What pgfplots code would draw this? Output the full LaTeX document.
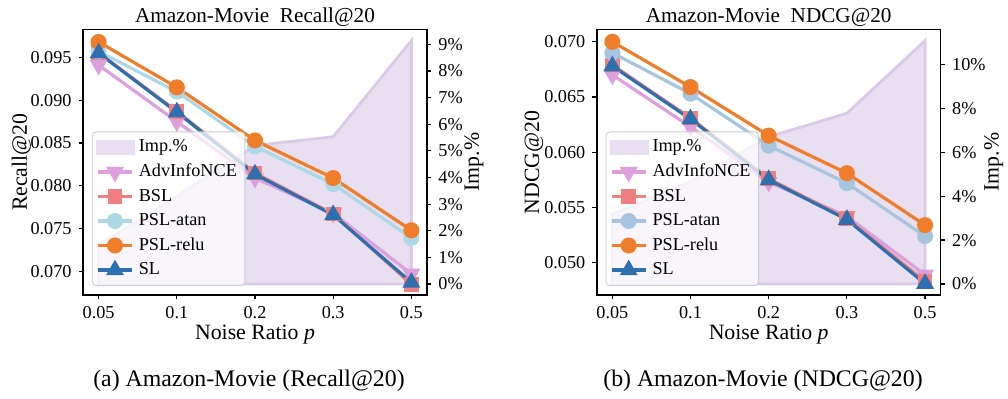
\documentclass[border=0pt]{standalone}
\usepackage{pgfplots}
\pgfplotsset{compat=1.18}
\usepackage{fontspec}
\setmainfont{Liberation Serif}
\definecolor{cRelu}{RGB}{239,125,42}
\definecolor{cSL}{RGB}{46,111,176}
\definecolor{cAtanA}{RGB}{173,216,230}
\definecolor{cAtanB}{RGB}{168,197,224}
\definecolor{cBSL}{RGB}{240,128,128}
\definecolor{cAdv}{RGB}{221,160,221}
\definecolor{cImpF}{RGB}{232,223,240}
\definecolor{cImpL}{RGB}{217,202,231}
\definecolor{cLeg}{RGB}{204,204,204}

\pgfplotsset{
  every axis title shift=0pt,
  base/.style={
    scale only axis, width=172pt, height=132.8pt,
    xmin=-0.2, xmax=4.2, xtick={0,1,2,3,4},
    xticklabels={0.05,0.1,0.2,0.3,0.5},
    tick align=outside, major tick length=2.2pt,
    tick style={black, line width=0.6pt},
    axis line style={line width=0.8pt},
    /pgf/number format/assume math mode=true,
    tick label style={font=\fontsize{9.1}{10}\selectfont},
    label style={font=\fontsize{10.9}{12}\selectfont},
    title style={font=\fontsize{10.6}{12}\selectfont, at={(axis description cs:0.5,1)}, anchor=base, yshift=3.6pt},
  },
  impax/.style={base, hide x axis, axis y line*=right, ytick pos=right,
    ylabel={Imp.\%},
    yticklabel={\pgfmathprintnumber{\tick}\%},
    ylabel style={at={(axis description cs:1,0.5)}, anchor=base},
  },
  mainax/.style={base, xtick pos=left, ytick pos=left,
    scaled y ticks=false,
    yticklabel style={/pgf/number format/.cd, fixed, fixed zerofill, precision=3},
    xlabel={Noise Ratio \textit{p}},
    xlabel style={at={(axis description cs:0.5,0)}, anchor=base, yshift=-22pt},
    ylabel style={at={(axis description cs:0,0.5)}, anchor=base},
    legend cell align=left,
    legend style={at={(0.026,0.034)}, anchor=south west, draw=cLeg, rounded corners=2pt,
      fill=white, fill opacity=0.75, text opacity=1, font=\fontsize{9.1}{10}\selectfont,
      row sep=0.6pt, inner xsep=2pt, inner ysep=2pt},
    legend image post style={sharp corners, opacity=1},
    every axis plot/.append style={line width=1.6pt, mark size=3.2pt},
  },
  imp/.style={draw=cImpL, line width=1.4pt, fill=cImpF},
  adv/.style={color=cAdv, mark=triangle*, every mark/.append style={rotate=180}, mark size=3.6pt},
  bsl/.style={color=cBSL, mark=square*, mark size=2.9pt},
  relu/.style={color=cRelu, mark=*},
  sl/.style={color=cSL, mark=triangle*, mark size=3.6pt},
  implegend/.style={legend image code/.code={\fill[cImpF, opacity=1] (0cm,-0.1cm) rectangle (0.62cm,0.11cm);}},
}

\begin{document}
\begin{tikzpicture}
\useasboundingbox (0,0) rectangle (504pt,199pt);

% ---------- (a) Recall@20 ----------
\begin{axis}[impax, at={(41.5pt,51.5pt)}, anchor=south west,
  ymin=-0.413, ymax=9.56, ytick={0,1,...,9},
  ylabel style={yshift=-26pt}]
\addplot[imp] coordinates {(0,1.46) (1,3.3) (2,5.2) (3,5.53) (4,9.14)} \closedcycle;
\end{axis}
\begin{axis}[mainax, at={(41.5pt,51.5pt)}, anchor=south west,
  ymin=0.06724, ymax=0.09827, ytick={0.070,0.075,0.080,0.085,0.090,0.095},
  ylabel={Recall@20}, ylabel style={yshift=28pt},
  title={Amazon-Movie\ \ Recall@20}]
\addlegendimage{implegend}
\addlegendentry{Imp.\%}
\addplot[adv] coordinates {(0,0.0941) (1,0.0875) (2,0.0809) (3,0.0768) (4,0.0697)};
\addlegendentry{AdvInfoNCE\hspace{2.5pt}}
\addplot[bsl] coordinates {(0,0.09555) (1,0.0887) (2,0.0815) (3,0.0767) (4,0.0685)};
\addlegendentry{BSL}
\addplot[color=cAtanA, mark=*] coordinates {(0,0.0957) (1,0.0910) (2,0.0846) (3,0.0802) (4,0.0739)};
\addlegendentry{PSL-atan}
\addplot[relu] coordinates {(0,0.0968) (1,0.0915) (2,0.0853) (3,0.0809) (4,0.0748)};
\addlegendentry{PSL-relu}
\addplot[sl] coordinates {(0,0.0955) (1,0.0886) (2,0.08135) (3,0.0766) (4,0.0687)};
\addlegendentry{SL}
\end{axis}

% ---------- (b) NDCG@20 ----------
\begin{axis}[impax, at={(298.35pt,51.5pt)}, anchor=south west,
  ymin=-0.50, ymax=11.59, ytick={0,2,...,10},
  ylabel style={yshift=-29pt}]
\addplot[imp] coordinates {(0,3.17) (1,4.66) (2,6.7) (3,7.77) (4,11.08)} \closedcycle;
\end{axis}
\begin{axis}[mainax, at={(298.35pt,51.5pt)}, anchor=south west,
  ymin=0.04707, ymax=0.07112, ytick={0.050,0.055,0.060,0.065,0.070},
  ylabel={NDCG@20}, ylabel style={yshift=28.8pt},
  title={Amazon-Movie\ \ NDCG@20}]
\addlegendimage{implegend}
\addlegendentry{Imp.\%}
\addplot[adv] coordinates {(0,0.0670) (1,0.0623) (2,0.0573) (3,0.0542) (4,0.0489)};
\addlegendentry{AdvInfoNCE\hspace{2.5pt}}
\addplot[bsl] coordinates {(0,0.0679) (1,0.0631) (2,0.0576) (3,0.0540) (4,0.0483)};
\addlegendentry{BSL}
\addplot[color=cAtanB, mark=*] coordinates {(0,0.0690) (1,0.0653) (2,0.0606) (3,0.0572) (4,0.0524)};
\addlegendentry{PSL-atan}
\addplot[relu] coordinates {(0,0.0700) (1,0.0659) (2,0.0615) (3,0.0581) (4,0.0534)};
\addlegendentry{PSL-relu}
\addplot[sl] coordinates {(0,0.0678) (1,0.0630) (2,0.0575) (3,0.0539) (4,0.0481)};
\addlegendentry{SL}
\end{axis}

\node[anchor=base, font=\fontsize{11.9}{14}\selectfont] at (124.5pt,5.7pt) {(a) Amazon-Movie (Recall@20)};
\node[anchor=base, font=\fontsize{11.9}{14}\selectfont] at (381.5pt,5.7pt) {(b) Amazon-Movie (NDCG@20)};
\end{tikzpicture}
\end{document}
